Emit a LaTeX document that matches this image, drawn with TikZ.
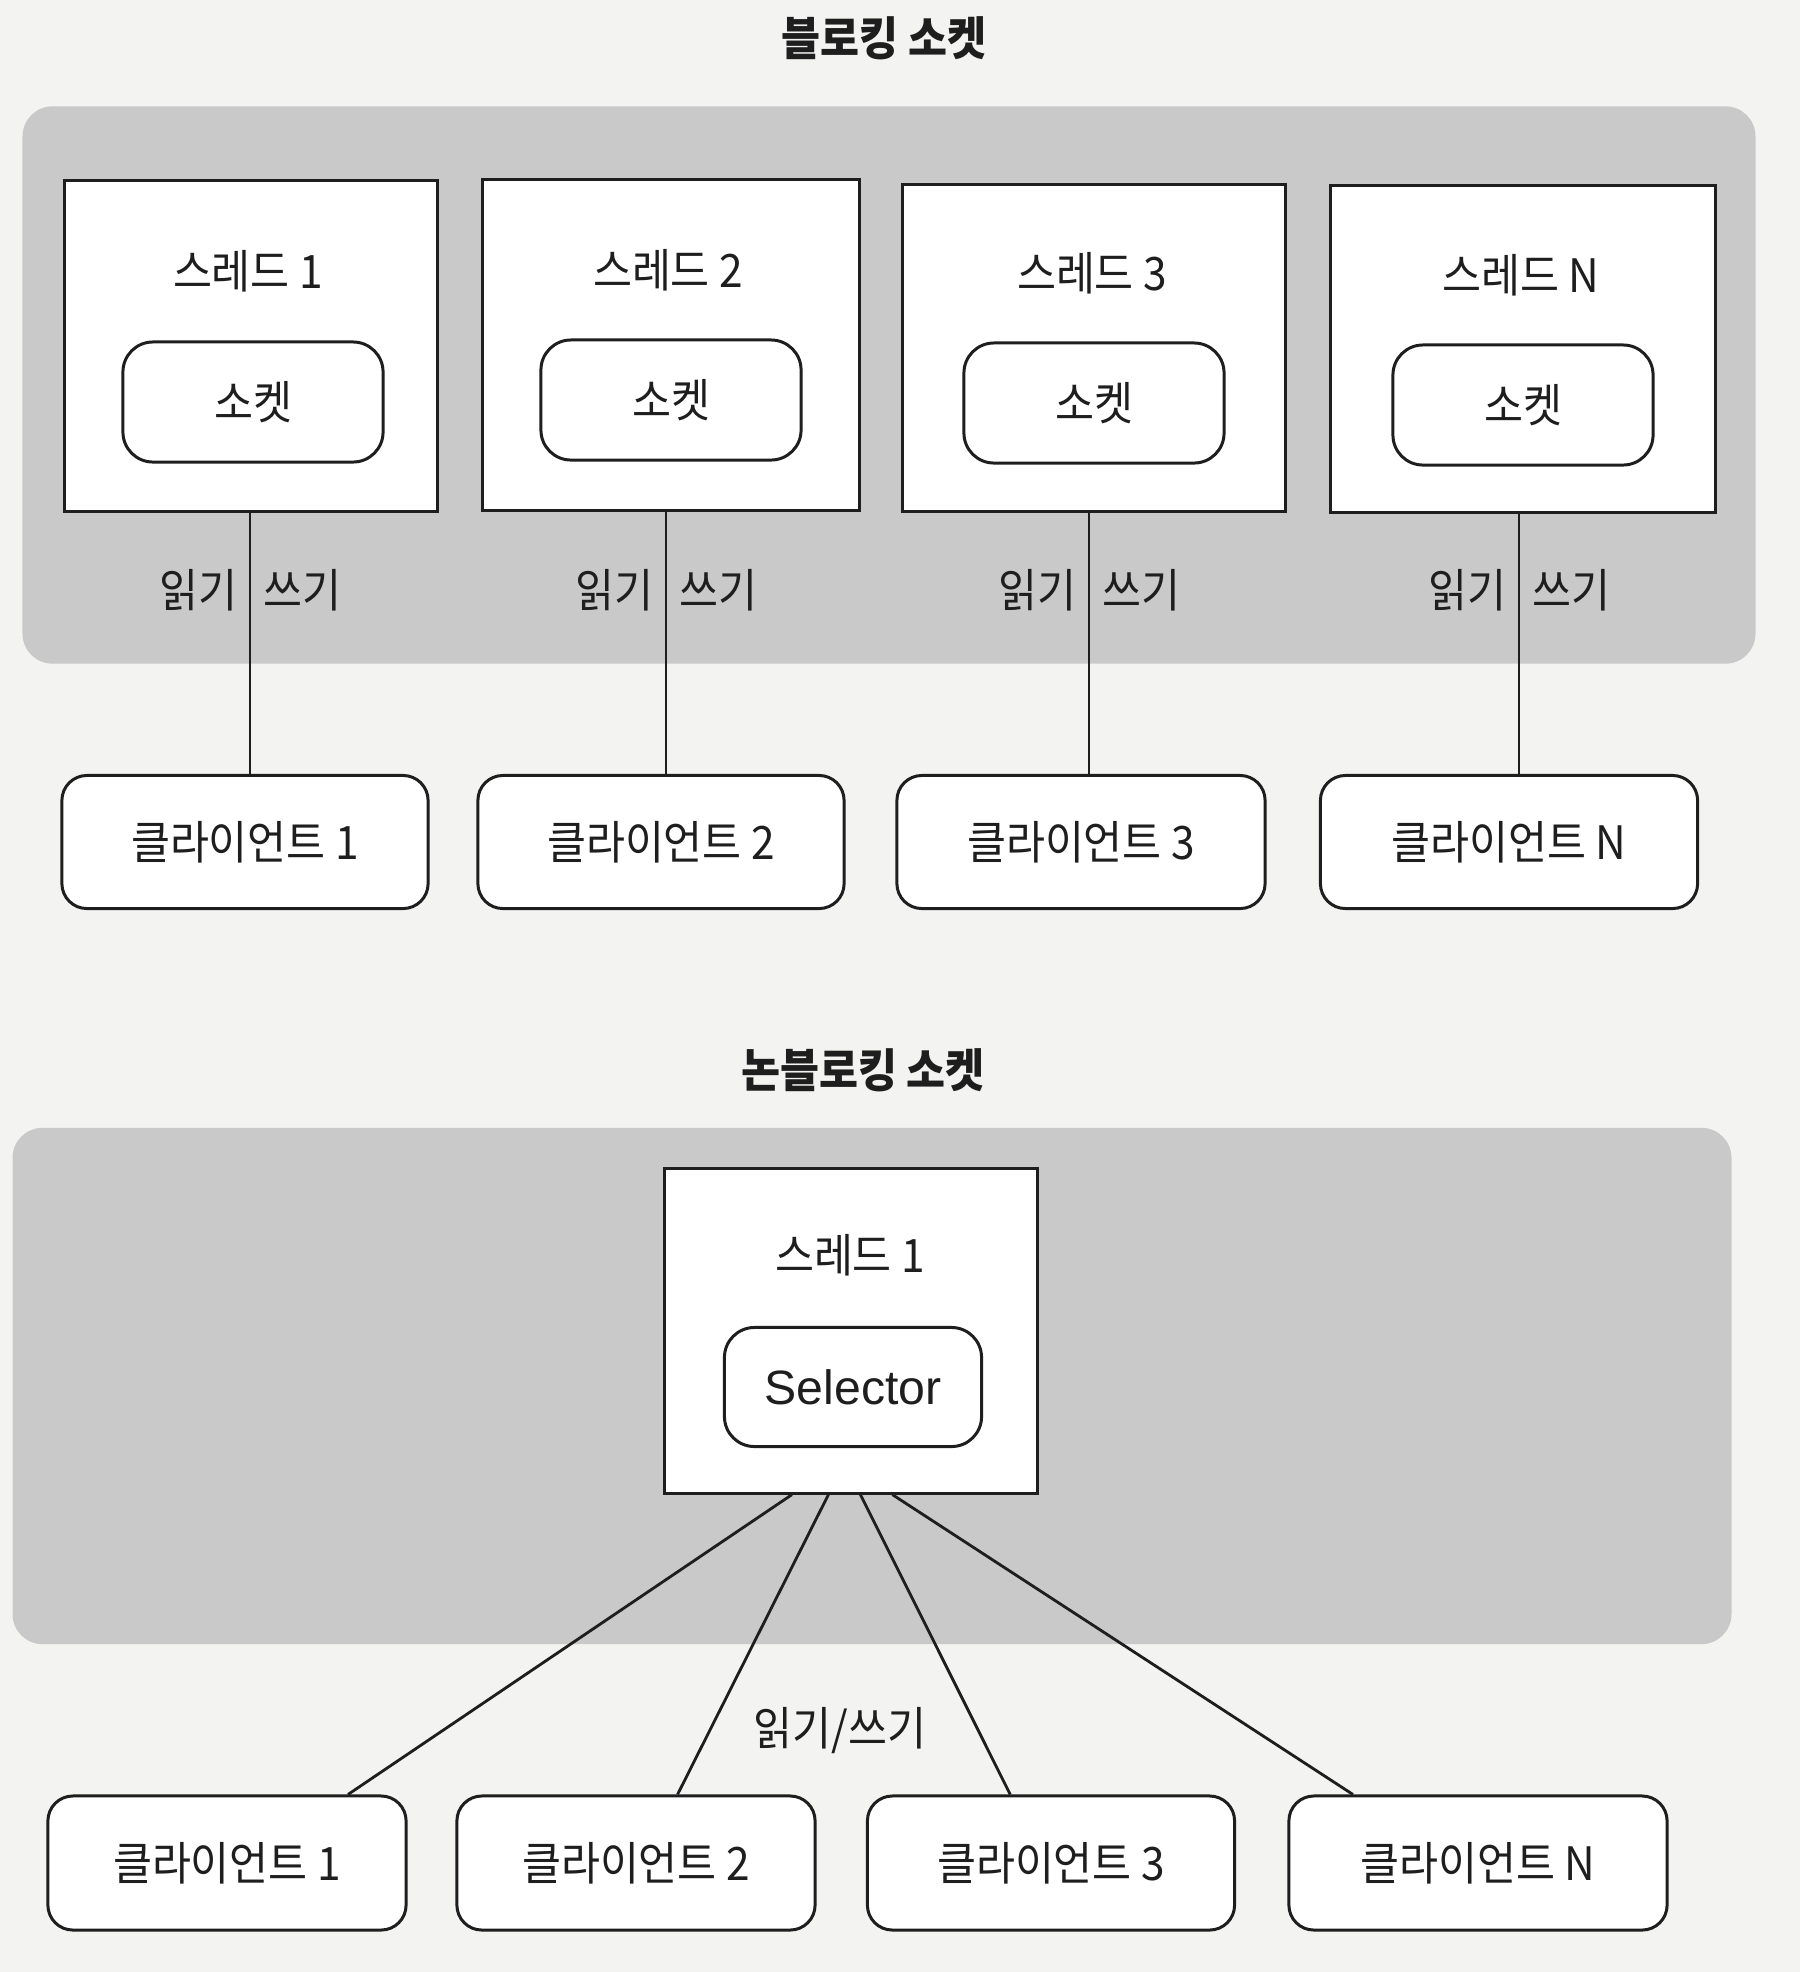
\documentclass[tikz,border=0pt]{standalone}
\usepackage{fontspec}
\usetikzlibrary{calc}
\newfontfamily\kr[FakeStretch=0.92]{Noto Sans CJK KR}
\newfontfamily\lat{Liberation Sans}
\definecolor{paper}{HTML}{F3F3F1}
\definecolor{panelgray}{HTML}{C9C9CA}
\definecolor{ink}{HTML}{1E1E1E}
\begin{document}
\begin{tikzpicture}[x=0.01cm,y=-0.01cm,
  every node/.style={font=\kr\fontsize{13.1}{15}\selectfont, inner sep=0pt, text=ink},
  panel/.style={fill=panelgray, rounded corners=0.3cm, inner sep=0pt},
  thread/.style={draw=ink, fill=white, line width=0.85pt},
  sock/.style={draw=ink, fill=white, rounded corners=0.3cm, line width=0.85pt, minimum width=2.6cm, minimum height=1.2cm},
  client/.style={draw=ink, fill=white, rounded corners=0.25cm, line width=0.85pt, minimum height=1.33cm},
  conn/.style={draw=ink, line width=0.8pt},
  title/.style={font=\kr\bfseries\fontsize{13.1}{15}\selectfont}]
\fill[paper] (0,0) rectangle (1800,1972);
\useasboundingbox (0,0) rectangle (1800,1972);

% ---------- Blocking socket ----------
\node[title] (title1) at (884,38) {블로킹 소켓};
\node[panel, minimum width=17.32cm, minimum height=5.57cm] (panel1) at (889,385) {};

\node[thread, minimum width=3.72cm, minimum height=3.31cm] (t1) at (251,346) {};
\node[thread, minimum width=3.76cm, minimum height=3.31cm] (t2) at (671,345) {};
\node[thread, minimum width=3.83cm, minimum height=3.27cm] (t3) at (1094,348) {};
\node[thread, minimum width=3.85cm, minimum height=3.27cm] (tN) at (1523,349) {};

\node (lt1) at (248,271) {스레드 1};
\node (lt2) at (668,270) {스레드 2};
\node (lt3) at (1092,273) {스레드 3};
\node (ltN) at (1521,275) {스레드 N};

\node[sock] (s1) at (253,402) {소켓};
\node[sock] (s2) at (671,400) {소켓};
\node[sock] (s3) at (1094,403) {소켓};
\node[sock] (sN) at (1523,405) {소켓};

\node[client, minimum width=3.66cm] (c1) at (245,842) {클라이언트 1};
\node[client, minimum width=3.66cm] (c2) at (661,842) {클라이언트 2};
\node[client, minimum width=3.68cm] (c3) at (1081,842) {클라이언트 3};
\node[client, minimum width=3.77cm] (cN) at (1509,842) {클라이언트 N};

\foreach \i/\x in {1/250,2/666,3/1089,N/1519}{
  \coordinate (a\i) at (\x,512);
  \coordinate (z\i) at (\x,776);
  \draw[conn] (a\i) -- (z\i);
  \node[anchor=east] (r\i) at ($(a\i)+(-12,78)$) {읽기};
  \node[anchor=west] (w\i) at ($(a\i)+(13,78)$) {쓰기};
}

% ---------- Non-blocking socket ----------
\node[title] (title2) at (863,1070) {논블로킹 소켓};
\node[panel, minimum width=17.18cm, minimum height=5.16cm] (panel2) at (872,1386) {};

\node[thread, minimum width=3.73cm, minimum height=3.24cm] (tb) at (851,1331) {};
\node (ltb) at (850,1255) {스레드 1};
\node[sock, minimum width=2.57cm, minimum height=1.19cm, font=\lat\fontsize{13.7}{16}\selectfont] (sel) at (853,1387) {Selector};

\node[client, minimum width=3.58cm, minimum height=1.34cm] (b1) at (227,1863) {클라이언트 1};
\node[client, minimum width=3.58cm, minimum height=1.34cm] (b2) at (636,1863) {클라이언트 2};
\node[client, minimum width=3.67cm, minimum height=1.34cm] (b3) at (1051,1863) {클라이언트 3};
\node[client, minimum width=3.78cm, minimum height=1.34cm] (bN) at (1478,1863) {클라이언트 N};

\coordinate (q1) at ($(tb.south west)!0.343!(tb.south east)$);
\coordinate (q2) at ($(tb.south west)!0.44!(tb.south east)$);
\coordinate (q3) at ($(tb.south west)!0.525!(tb.south east)$);
\coordinate (qN) at ($(tb.south west)!0.61!(tb.south east)$);
\coordinate (e1) at ($(b1.north west)!0.835!(b1.north east)$);
\coordinate (e2) at ($(b2.north west)!0.615!(b2.north east)$);
\coordinate (e3) at ($(b3.north west)!0.39!(b3.north east)$);
\coordinate (eN) at ($(bN.north west)!0.172!(bN.north east)$);
\foreach \i in {1,2,3,N}{\draw[conn] (q\i) -- (e\i);}

\node (rw) at (840,1731) {읽기/쓰기};
\end{tikzpicture}
\end{document}
